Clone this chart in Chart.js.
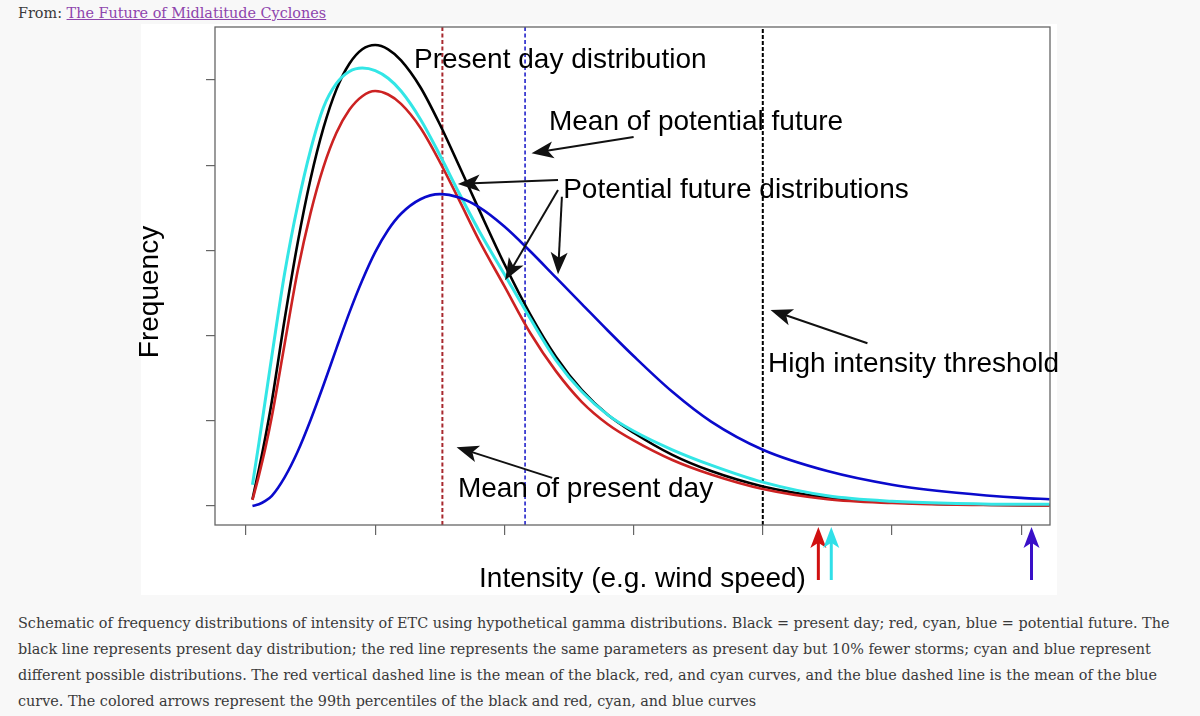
<!DOCTYPE html>
<html>
<head>
<meta charset="utf-8">
<script src="https://cdn.jsdelivr.net/npm/chart.js@4.4.1/dist/chart.umd.min.js"></script>
<style>
  body { margin: 0; width: 1200px; height: 716px; overflow: hidden; position: relative;
         background: #f8f8f8; font-family: "DejaVu Serif", serif; color: #3a3a3a; }
  #from { position: absolute; left: 18px; top: 0; line-height: 26px; white-space: nowrap; }
  #from a { color: #8e44ad; text-decoration: underline; }
  #figure { position: absolute; left: 141px; top: 24px; width: 916px; height: 571px; background: #fff; }
  #wrap { position: absolute; left: 121px; top: 24px; width: 950px; height: 571px; }
  #caption { position: absolute; left: 18px; top: 610px; line-height: 26px; white-space: nowrap; }
</style>
</head>
<body>
<div id="from">From: <a href="#">The Future of Midlatitude Cyclones</a></div>
<div id="figure"></div>
<div id="wrap"><canvas id="chart"></canvas></div>
<div id="caption">
  <div><span id="line1">Schematic of frequency distributions of intensity of ETC using hypothetical gamma distributions. Black = present day; red, cyan, blue = potential future. The</span></div>
  <div>black line represents present day distribution; the red line represents the same parameters as present day but 10% fewer storms; cyan and blue represent</div>
  <div>different possible distributions. The red vertical dashed line is the mean of the black, red, and cyan curves, and the blue dashed line is the mean of the blue</div>
  <div>curve. The colored arrows represent the 99th percentiles of the black and red, cyan, and blue curves</div>
</div>
<script>
// intensity (x) in axis units, one unit per tick
const intensity = [0.05, 0.1, 0.15, 0.2, 0.3, 0.4, 0.5, 0.6, 0.7, 0.8, 0.9, 1.0, 1.1, 1.2, 1.35, 1.5,
                   1.65, 1.8, 2.0, 2.2, 2.4, 2.6, 2.8, 3.0, 3.3, 3.6, 4.0, 4.5, 5.0, 5.5, 6.0, 6.22];
// frequency
const presentDay = [0.08, 0.43, 0.81, 1.23, 2.20, 3.09, 3.84, 4.44, 4.89, 5.19, 5.36, 5.41, 5.36, 5.23, 4.915, 4.48,
                    3.99, 3.49, 2.84, 2.25, 1.75, 1.36, 1.07, 0.86, 0.60, 0.41, 0.23, 0.10, 0.045, 0.02, 0.01, 0.01];
const fewerStorms = [0.07, 0.36, 0.68, 1.05, 1.91, 2.76, 3.44, 3.98, 4.38, 4.65, 4.81, 4.87, 4.83, 4.72, 4.44, 4.04,
                     3.59, 3.13, 2.58, 2.03, 1.58, 1.22, 0.96, 0.77, 0.54, 0.37, 0.20, 0.08, 0.035, 0.015, 0.01, 0.005];
const futureCyan = [0.25, 0.74, 1.25, 1.76, 2.74, 3.53, 4.18, 4.68, 4.96, 5.10, 5.14, 5.11, 5.02, 4.87, 4.54, 4.12,
                    3.67, 3.24, 2.72, 2.20, 1.71, 1.34, 1.07, 0.88, 0.66, 0.48, 0.28, 0.12, 0.055, 0.03, 0.02, 0.02];
const futureBlue = [0.00, 0.02, 0.06, 0.12, 0.34, 0.64, 1.01, 1.42, 1.85, 2.27, 2.65, 2.98, 3.24, 3.43, 3.60, 3.66,
                    3.62, 3.51, 3.28, 2.99, 2.68, 2.37, 2.06, 1.76, 1.34, 0.99, 0.66, 0.41, 0.25, 0.155, 0.095, 0.08];

const meanPresent = 1.52;   // red dashed line
const meanFuture = 2.16;    // blue dashed line
const threshold = 4.0;      // black dotted line
const percentile99 = [4.43, 4.53, 6.08];   // black & red, cyan, blue

const FONT = '"Liberation Sans", Arial, sans-serif';

function pts(ys) {
  return intensity.map((x, i) => ({ x: x, y: ys[i] }));
}

function arrow(ctx, x0, y0, x1, y1, head, wide, color, lw) {
  const ang = Math.atan2(y1 - y0, x1 - x0);
  ctx.strokeStyle = color;
  ctx.fillStyle = color;
  ctx.lineWidth = lw;
  ctx.setLineDash([]);
  ctx.beginPath();
  ctx.moveTo(x0, y0);
  ctx.lineTo(x1 - Math.cos(ang) * head * 0.7, y1 - Math.sin(ang) * head * 0.7);
  ctx.stroke();
  ctx.save();
  ctx.translate(x1, y1);
  ctx.rotate(ang);
  ctx.beginPath();
  ctx.moveTo(0, 0);
  ctx.lineTo(-head, -wide / 2);
  ctx.lineTo(-head * 0.75, 0);
  ctx.lineTo(-head, wide / 2);
  ctx.closePath();
  ctx.fill();
  ctx.restore();
}

// labels and pointer arrows, in axis units
const notes = [
  { text: 'Present day distribution', x: 1.30, y: 5.14 },
  { text: 'Mean of potential future', x: 2.345, y: 4.41, from: [3.0, 4.33], to: [2.21, 4.14] },
  { text: 'Potential future distributions', x: 2.455, y: 3.615 },
  { text: 'High intensity threshold', x: 4.04, y: 1.57, from: [4.81, 1.91], to: [4.06, 2.30] },
  { text: 'Mean of present day', x: 1.64, y: 0.105, from: [2.37, 0.33], to: [1.63, 0.69] }
];
const pointers = [
  { from: [2.415, 3.826], to: [1.64, 3.78] },
  { from: [2.415, 3.71], to: [2.005, 2.65] },
  { from: [2.445, 3.63], to: [2.415, 2.72] }
];

const figureMarks = {
  id: 'figureMarks',
  beforeDatasetsDraw(chart) {
    const { ctx, chartArea: a, scales: { x } } = chart;
    ctx.save();
    const lines = [
      { v: meanPresent, color: '#a8282e', dash: [4, 2.5], w: 2 },
      { v: meanFuture, color: '#3b3bd0', dash: [4, 2.5], w: 1.8 },
      { v: threshold, color: '#000', dash: [4, 2], w: 2 }
    ];
    lines.forEach(l => {
      const px = x.getPixelForValue(l.v);
      ctx.strokeStyle = l.color;
      ctx.lineWidth = l.w;
      ctx.setLineDash(l.dash);
      ctx.beginPath();
      ctx.moveTo(px, a.bottom);
      ctx.lineTo(px, a.top);
      ctx.stroke();
    });
    ctx.restore();
  },
  afterDatasetsDraw(chart) {
    const { ctx, chartArea: a, scales: { x, y } } = chart;
    ctx.save();
    // frame
    ctx.setLineDash([]);
    ctx.strokeStyle = '#666';
    ctx.lineWidth = 1.3;
    ctx.strokeRect(a.left, a.top, a.right - a.left, a.bottom - a.top);
    // axis titles
    ctx.font = '28px ' + FONT;
    ctx.fillStyle = '#000';
    ctx.textAlign = 'center';
    ctx.textBaseline = 'middle';
    ctx.fillText('Intensity (e.g. wind speed)', (a.left + a.right) / 2 + 10, a.bottom + 54);
    ctx.save();
    ctx.translate(a.left - 65, (a.top + a.bottom) / 2 + 16);
    ctx.rotate(-Math.PI / 2);
    ctx.fillText('Frequency', 0, 0);
    ctx.restore();
    // notes
    ctx.textAlign = 'left';
    ctx.textBaseline = 'alphabetic';
    notes.forEach(n => {
      ctx.fillStyle = '#000';
      ctx.fillText(n.text, x.getPixelForValue(n.x), y.getPixelForValue(n.y));
      if (n.from) {
        arrow(ctx, x.getPixelForValue(n.from[0]), y.getPixelForValue(n.from[1]),
              x.getPixelForValue(n.to[0]), y.getPixelForValue(n.to[1]), 22, 17, '#111', 2);
      }
    });
    pointers.forEach(p => {
      arrow(ctx, x.getPixelForValue(p.from[0]), y.getPixelForValue(p.from[1]),
            x.getPixelForValue(p.to[0]), y.getPixelForValue(p.to[1]), 22, 17, '#111', 2);
    });
    // 99th percentile arrows under the axis
    const arrowColors = ['#d01010', '#30e0e8', '#3a10c8'];
    percentile99.forEach((v, i) => {
      const px = x.getPixelForValue(v);
      arrow(ctx, px, a.bottom + 55, px, a.bottom + 2, 21, 16, arrowColors[i], 3);
    });
    ctx.restore();
  }
};

const tickGrid = { drawOnChartArea: false, drawTicks: true, color: '#666', lineWidth: 1.2 };

new Chart(document.getElementById('chart'), {
  type: 'line',
  data: {
    datasets: [
      { label: 'Blue', data: pts(futureBlue), borderColor: '#0a0acc', borderWidth: 2.6 },
      { label: 'Cyan', data: pts(futureCyan), borderColor: '#33e6e6', borderWidth: 3 },
      { label: 'Red', data: pts(fewerStorms), borderColor: '#cc2222', borderWidth: 2.6 },
      { label: 'Present day', data: pts(presentDay), borderColor: '#000000', borderWidth: 2.6 }
    ]
  },
  options: {
    responsive: true,
    maintainAspectRatio: false,
    animation: false,
    elements: {
      point: { radius: 0, hoverRadius: 0 },
      line: { cubicInterpolationMode: 'monotone', fill: false }
    },
    layout: { padding: { left: 85, top: 3, right: 21, bottom: 60 } },
    plugins: { legend: { display: false }, tooltip: { enabled: false } },
    scales: {
      x: {
        type: 'linear', min: -0.24, max: 6.223,
        border: { display: false },
        grid: Object.assign({ tickLength: 10 }, tickGrid),
        ticks: { display: false, stepSize: 1, includeBounds: false }
      },
      y: {
        type: 'linear', min: -0.223, max: 5.622,
        border: { display: false },
        grid: Object.assign({ tickLength: 9 }, tickGrid),
        ticks: { display: false, stepSize: 1, includeBounds: false }
      }
    }
  },
  plugins: [figureMarks]
});

// fit the caption font so the first line spans the same width as on the page
(function fitCaption() {
  const cap = document.getElementById('caption');
  const from = document.getElementById('from');
  cap.style.fontSize = '15px';
  const w = document.getElementById('line1').getBoundingClientRect().width;
  const size = 15 * 1152 / w;
  cap.style.fontSize = size + 'px';
  from.style.fontSize = size + 'px';
})();
</script>
</body>
</html>
